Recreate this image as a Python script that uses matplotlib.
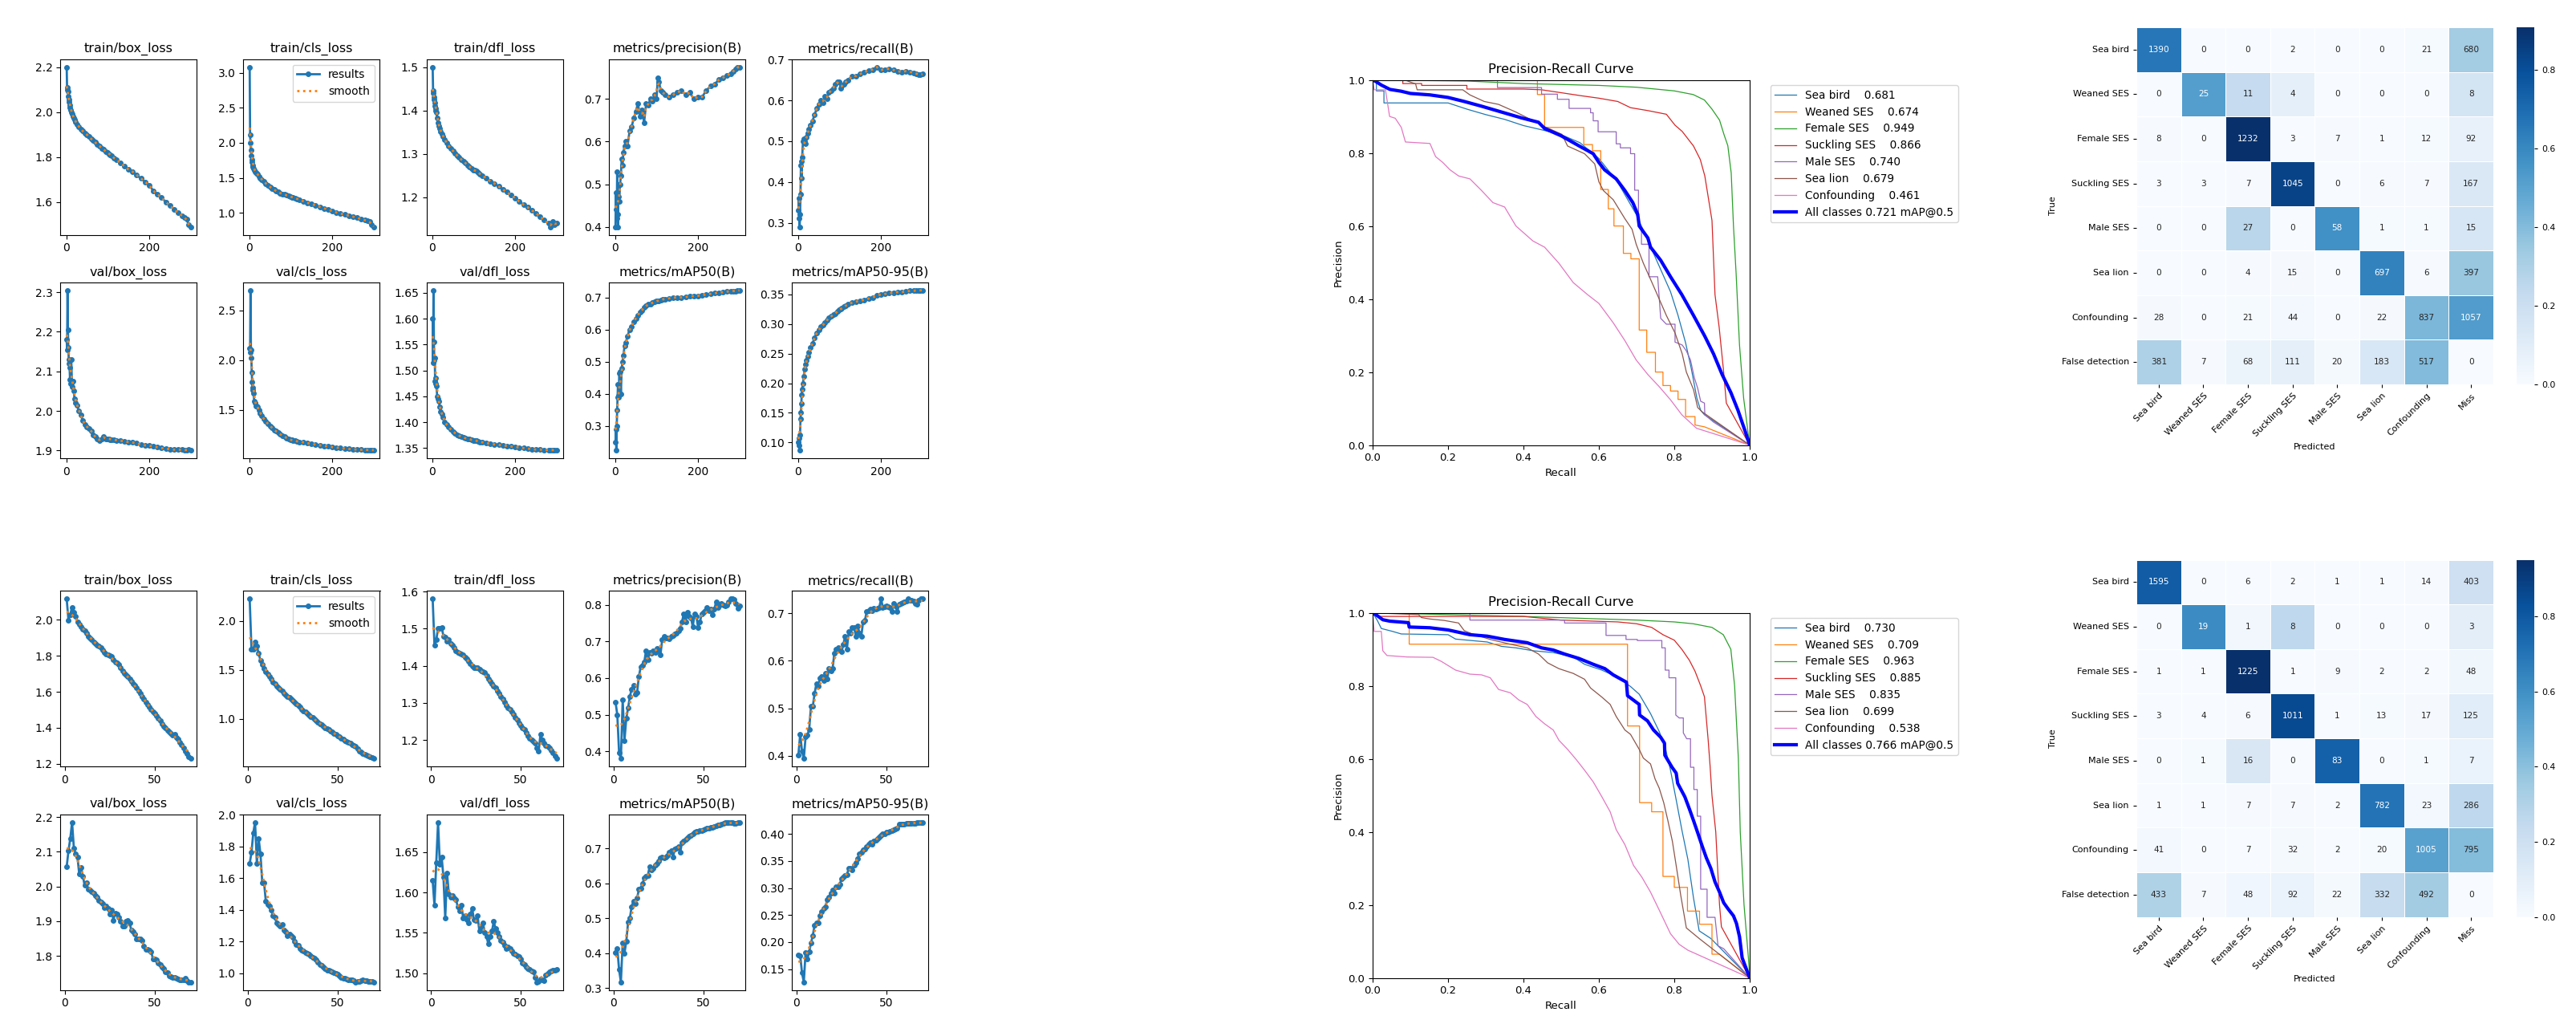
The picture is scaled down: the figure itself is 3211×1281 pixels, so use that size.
import numpy as np
import matplotlib
matplotlib.use("Agg")
import matplotlib.pyplot as plt
from matplotlib.ticker import MaxNLocator
import seaborn as sns

# ------------------------------------------------------------------ data
titles = ["train/box_loss", "train/cls_loss", "train/dfl_loss", "metrics/precision(B)", "metrics/recall(B)",
          "val/box_loss", "val/cls_loss", "val/dfl_loss", "metrics/mAP50(B)", "metrics/mAP50-95(B)"]

# run A (300 epochs), values read at these epochs
A_ep = [1, 2, 3, 4, 5, 6, 7, 8, 9, 10, 12, 14, 16, 18, 20, 23, 26, 30, 35, 40, 45, 50, 55, 60, 65, 70, 75, 80, 85, 90,
        95, 100, 103, 106, 110, 115, 120, 130, 140, 150, 160, 170, 180, 190, 200, 210, 220, 230, 240, 250, 260, 270,
        280, 285, 290, 295, 300]
A_tbox = [2.20, 2.10, 2.11, 2.09, 2.07, 2.055, 2.045, 2.03, 2.02, 2.01, 2.0, 1.99, 1.98, 1.975, 1.965, 1.955, 1.945,
          1.935, 1.925, 1.915, 1.905, 1.90, 1.89, 1.88, 1.875, 1.865, 1.855, 1.85, 1.84, 1.835, 1.825, 1.82, 1.815,
          1.81, 1.805, 1.795, 1.79, 1.775, 1.76, 1.745, 1.735, 1.72, 1.705, 1.69, 1.675, 1.65, 1.635, 1.62, 1.60,
          1.585, 1.567, 1.552, 1.54, 1.53, 1.525, 1.50, 1.49]
A_tcls = [3.08, 2.11, 2.0, 1.9, 1.82, 1.76, 1.72, 1.68, 1.65, 1.63, 1.61, 1.59, 1.575, 1.56, 1.55, 1.52, 1.50, 1.475,
          1.45, 1.42, 1.39, 1.37, 1.35, 1.33, 1.31, 1.295, 1.28, 1.27, 1.26, 1.25, 1.24, 1.23, 1.225, 1.22, 1.21,
          1.20, 1.19, 1.165, 1.145, 1.125, 1.105, 1.085, 1.065, 1.045, 1.025, 1.005, 0.99, 0.975, 0.96, 0.945, 0.93,
          0.91, 0.895, 0.885, 0.875, 0.83, 0.80]
A_tdfl = [1.50, 1.445, 1.44, 1.43, 1.425, 1.418, 1.41, 1.405, 1.40, 1.395, 1.382, 1.372, 1.364, 1.358, 1.352, 1.346,
          1.34, 1.333, 1.325, 1.318, 1.312, 1.307, 1.302, 1.296, 1.292, 1.287, 1.283, 1.279, 1.274, 1.27, 1.267,
          1.263, 1.262, 1.26, 1.257, 1.254, 1.25, 1.244, 1.237, 1.232, 1.225, 1.218, 1.212, 1.205, 1.198, 1.19, 1.183,
          1.177, 1.17, 1.163, 1.156, 1.148, 1.14, 1.132, 1.145, 1.137, 1.14]
A_prec = [0.40, 0.48, 0.44, 0.42, 0.53, 0.43, 0.40, 0.50, 0.47, 0.46, 0.50, 0.52, 0.56, 0.545, 0.575, 0.59, 0.60, 0.59,
          0.625, 0.635, 0.655, 0.67, 0.69, 0.66, 0.675, 0.645, 0.69, 0.685, 0.70, 0.695, 0.71, 0.70, 0.75, 0.74, 0.72,
          0.715, 0.71, 0.705, 0.71, 0.715, 0.72, 0.71, 0.715, 0.70, 0.705, 0.705, 0.72, 0.73, 0.735, 0.745, 0.75,
          0.755, 0.76, 0.765, 0.77, 0.775, 0.775]
A_rec = [0.33, 0.36, 0.31, 0.29, 0.32, 0.37, 0.44, 0.45, 0.41, 0.46, 0.50, 0.505, 0.50, 0.495, 0.51, 0.52, 0.53, 0.54,
         0.55, 0.565, 0.58, 0.59, 0.60, 0.595, 0.61, 0.605, 0.62, 0.625, 0.63, 0.64, 0.645, 0.645, 0.63, 0.635, 0.64,
         0.645, 0.65, 0.66, 0.66, 0.665, 0.67, 0.673, 0.676, 0.682, 0.675, 0.676, 0.678, 0.675, 0.672, 0.67, 0.672,
         0.67, 0.668, 0.666, 0.664, 0.663, 0.665]
A_vbox = [2.18, 2.155, 2.305, 2.205, 2.16, 2.13, 2.12, 2.11, 2.08, 2.07, 2.13, 2.06, 2.075, 2.05, 2.03, 2.02, 2.015,
          2.00, 1.99, 1.975, 1.965, 1.96, 1.955, 1.95, 1.94, 1.935, 1.93, 1.925, 1.93, 1.935, 1.93, 1.93, 1.93, 1.928,
          1.928, 1.927, 1.926, 1.925, 1.923, 1.921, 1.92, 1.918, 1.915, 1.913, 1.912, 1.91, 1.908, 1.906, 1.905,
          1.903, 1.902, 1.902, 1.902, 1.901, 1.901, 1.902, 1.901]
A_vcls = [2.12, 2.08, 2.70, 2.10, 2.02, 1.88, 1.78, 1.70, 1.72, 1.67, 1.59, 1.57, 1.54, 1.535, 1.53, 1.50, 1.47, 1.44,
          1.41, 1.385, 1.36, 1.34, 1.32, 1.30, 1.285, 1.27, 1.255, 1.24, 1.23, 1.22, 1.21, 1.20, 1.197, 1.194, 1.19,
          1.185, 1.18, 1.175, 1.167, 1.16, 1.152, 1.145, 1.14, 1.133, 1.127, 1.122, 1.118, 1.113, 1.108, 1.105, 1.102,
          1.10, 1.099, 1.098, 1.098, 1.097, 1.097]
A_vdfl = [1.60, 1.515, 1.655, 1.555, 1.52, 1.525, 1.48, 1.485, 1.475, 1.47, 1.45, 1.445, 1.44, 1.43, 1.42, 1.415,
          1.41, 1.40, 1.395, 1.39, 1.386, 1.382, 1.379, 1.376, 1.374, 1.372, 1.37, 1.369, 1.368, 1.367, 1.366, 1.365,
          1.365, 1.364, 1.363, 1.362, 1.361, 1.36, 1.358, 1.357, 1.356, 1.355, 1.354, 1.353, 1.352, 1.351, 1.35,
          1.349, 1.348, 1.347, 1.347, 1.346, 1.346, 1.346, 1.346, 1.346, 1.346]
A_map50 = [0.25, 0.29, 0.225, 0.30, 0.35, 0.39, 0.43, 0.39, 0.395, 0.465, 0.47, 0.40, 0.48, 0.50, 0.52, 0.55, 0.56,
           0.58, 0.60, 0.61, 0.625, 0.635, 0.645, 0.655, 0.66, 0.668, 0.674, 0.678, 0.68, 0.683, 0.686, 0.688, 0.69,
           0.69, 0.692, 0.694, 0.695, 0.697, 0.699, 0.70, 0.70, 0.701, 0.703, 0.704, 0.705, 0.707, 0.709, 0.711,
           0.713, 0.715, 0.716, 0.718, 0.719, 0.72, 0.72, 0.721, 0.722]
A_map = [0.10, 0.107, 0.095, 0.087, 0.113, 0.14, 0.151, 0.165, 0.18, 0.19, 0.20, 0.212, 0.224, 0.232, 0.239, 0.246,
         0.252, 0.26, 0.267, 0.277, 0.285, 0.29, 0.295, 0.298, 0.302, 0.307, 0.31, 0.313, 0.316, 0.318, 0.321, 0.324,
         0.325, 0.327, 0.329, 0.331, 0.333, 0.336, 0.338, 0.339, 0.341, 0.343, 0.345, 0.348, 0.35, 0.351, 0.352,
         0.353, 0.354, 0.354, 0.355, 0.356, 0.356, 0.357, 0.357, 0.357, 0.357]

# run B (70 epochs, one value per epoch)
B_tbox = [2.116, 1.997, 2.03, 2.07, 2.04, 2.02, 1.99, 1.973, 1.96, 1.95, 1.94, 1.925, 1.91, 1.90, 1.89, 1.877, 1.87,
          1.86, 1.853, 1.845, 1.832, 1.82, 1.812, 1.805, 1.80, 1.797, 1.78, 1.765, 1.76, 1.75, 1.735, 1.718, 1.705,
          1.695, 1.683, 1.67, 1.658, 1.646, 1.634, 1.622, 1.605, 1.59, 1.575, 1.56, 1.543, 1.527, 1.515, 1.503, 1.49,
          1.48, 1.468, 1.455, 1.44, 1.423, 1.41, 1.40, 1.388, 1.376, 1.37, 1.36, 1.365, 1.345, 1.335, 1.32, 1.305,
          1.288, 1.272, 1.256, 1.24, 1.228]
B_tcls = [2.226, 1.71, 1.71, 1.785, 1.74, 1.67, 1.595, 1.553, 1.51, 1.48, 1.455, 1.435, 1.405, 1.377, 1.355, 1.333,
          1.318, 1.303, 1.28, 1.26, 1.245, 1.229, 1.215, 1.20, 1.185, 1.17, 1.155, 1.14, 1.118, 1.097, 1.082, 1.067,
          1.052, 1.038, 1.023, 1.009, 0.995, 0.98, 0.965, 0.95, 0.935, 0.92, 0.91, 0.90, 0.888, 0.877, 0.862, 0.848,
          0.838, 0.827, 0.813, 0.80, 0.787, 0.774, 0.767, 0.76, 0.748, 0.736, 0.726, 0.716, 0.693, 0.67, 0.656, 0.642,
          0.635, 0.627, 0.617, 0.607, 0.598, 0.59]
B_tdfl = [1.58, 1.456, 1.47, 1.50, 1.50, 1.504, 1.48, 1.477, 1.466, 1.47, 1.46, 1.456, 1.448, 1.44, 1.437, 1.434,
          1.432, 1.43, 1.424, 1.418, 1.412, 1.406, 1.40, 1.395, 1.395, 1.395, 1.39, 1.387, 1.385, 1.383, 1.374, 1.364,
          1.358, 1.352, 1.346, 1.34, 1.332, 1.325, 1.318, 1.31, 1.302, 1.294, 1.288, 1.282, 1.276, 1.27, 1.262, 1.255,
          1.247, 1.24, 1.234, 1.228, 1.22, 1.212, 1.206, 1.20, 1.196, 1.193, 1.178, 1.17, 1.216, 1.20, 1.193, 1.186,
          1.183, 1.18, 1.173, 1.166, 1.158, 1.15]
B_prec = [0.535, 0.50, 0.396, 0.38, 0.54, 0.43, 0.49, 0.518, 0.55, 0.57, 0.58, 0.556, 0.56, 0.604, 0.63, 0.635, 0.643,
          0.675, 0.65, 0.67, 0.668, 0.674, 0.67, 0.682, 0.675, 0.663, 0.705, 0.713, 0.71, 0.71, 0.708, 0.713, 0.715,
          0.72, 0.722, 0.73, 0.735, 0.753, 0.776, 0.753, 0.78, 0.768, 0.765, 0.74, 0.776, 0.769, 0.737, 0.753, 0.776,
          0.78, 0.785, 0.792, 0.785, 0.788, 0.773, 0.788, 0.808, 0.792, 0.80, 0.804, 0.80, 0.796, 0.80, 0.808, 0.816,
          0.816, 0.814, 0.804, 0.79, 0.796]
B_rec = [0.402, 0.446, 0.41, 0.394, 0.44, 0.443, 0.456, 0.504, 0.504, 0.531, 0.552, 0.546, 0.564, 0.567, 0.558, 0.573,
         0.561, 0.583, 0.579, 0.583, 0.616, 0.625, 0.628, 0.622, 0.619, 0.634, 0.652, 0.625, 0.661, 0.658, 0.67, 0.669,
         0.652, 0.673, 0.658, 0.652, 0.682, 0.685, 0.703, 0.706, 0.708, 0.706, 0.71, 0.709, 0.711, 0.712, 0.73, 0.712,
         0.713, 0.715, 0.714, 0.712, 0.703, 0.721, 0.715, 0.703, 0.718, 0.721, 0.722, 0.724, 0.726, 0.73, 0.728,
         0.727, 0.725, 0.721, 0.718, 0.727, 0.73, 0.73]
B_vbox = [2.057, 2.103, 2.138, 2.185, 2.11, 2.094, 2.085, 2.035, 2.055, 2.03, 2.003, 2.01, 1.993, 1.99, 1.985, 1.98,
          1.973, 1.969, 1.96, 1.956, 1.95, 1.94, 1.944, 1.936, 1.92, 1.932, 1.903, 1.924, 1.92, 1.911, 1.899, 1.887,
          1.887, 1.899, 1.903, 1.895, 1.874, 1.87, 1.862, 1.85, 1.85, 1.85, 1.845, 1.829, 1.82, 1.82, 1.816, 1.812,
          1.792, 1.792, 1.788, 1.78, 1.775, 1.767, 1.763, 1.755, 1.751, 1.743, 1.74, 1.739, 1.737, 1.735, 1.733,
          1.732, 1.732, 1.732, 1.735, 1.729, 1.725, 1.725]
B_vcls = [1.692, 1.762, 1.885, 1.953, 1.692, 1.849, 1.753, 1.573, 1.573, 1.453, 1.435, 1.427, 1.40, 1.364, 1.355,
          1.319, 1.31, 1.30, 1.31, 1.274, 1.265, 1.238, 1.247, 1.238, 1.229, 1.202, 1.184, 1.175, 1.157, 1.148, 1.14,
          1.13, 1.125, 1.12, 1.11, 1.103, 1.095, 1.085, 1.07, 1.058, 1.05, 1.04, 1.03, 1.022, 1.018, 1.013, 1.008,
          1.004, 1.0, 0.995, 0.985, 0.977, 0.972, 0.968, 0.963, 0.959, 0.96, 0.959, 0.952, 0.946, 0.948, 0.95, 0.955,
          0.959, 0.956, 0.953, 0.951, 0.95, 0.948, 0.946]
B_vdfl = [1.6145, 1.584, 1.637, 1.687, 1.635, 1.644, 1.619, 1.568, 1.624, 1.598, 1.594, 1.596, 1.593, 1.591, 1.582,
          1.577, 1.584, 1.568, 1.571, 1.566, 1.562, 1.573, 1.58, 1.566, 1.565, 1.571, 1.552, 1.557, 1.562, 1.55,
          1.545, 1.536, 1.545, 1.552, 1.564, 1.555, 1.55, 1.545, 1.54, 1.538, 1.534, 1.53, 1.532, 1.53, 1.527, 1.524,
          1.523, 1.521, 1.52, 1.517, 1.513, 1.511, 1.508, 1.506, 1.505, 1.503, 1.502, 1.495, 1.489, 1.49, 1.493,
          1.492, 1.491, 1.498, 1.50, 1.502, 1.503, 1.504, 1.504, 1.505]
B_map50 = [0.402, 0.413, 0.352, 0.317, 0.43, 0.40, 0.433, 0.488, 0.50, 0.533, 0.549, 0.541, 0.557, 0.582, 0.586,
           0.598, 0.615, 0.619, 0.623, 0.647, 0.639, 0.643, 0.652, 0.656, 0.664, 0.672, 0.676, 0.672, 0.676, 0.68,
           0.688, 0.693, 0.676, 0.697, 0.70, 0.705, 0.688, 0.717, 0.721, 0.725, 0.73, 0.734, 0.738, 0.742, 0.746,
           0.748, 0.749, 0.75, 0.752, 0.754, 0.755, 0.757, 0.758, 0.76, 0.761, 0.762, 0.765, 0.767, 0.768, 0.77,
           0.772, 0.775, 0.774, 0.773, 0.773, 0.773, 0.772, 0.772, 0.773, 0.773]
B_map = [0.176, 0.175, 0.143, 0.126, 0.181, 0.169, 0.182, 0.198, 0.212, 0.231, 0.236, 0.236, 0.249, 0.257, 0.262,
         0.265, 0.278, 0.283, 0.291, 0.296, 0.291, 0.302, 0.302, 0.307, 0.317, 0.32, 0.323, 0.325, 0.336, 0.336,
         0.334, 0.342, 0.347, 0.355, 0.363, 0.366, 0.371, 0.373, 0.376, 0.381, 0.384, 0.381, 0.387, 0.389, 0.392,
         0.395, 0.397, 0.40, 0.401, 0.403, 0.404, 0.405, 0.407, 0.408, 0.41, 0.411, 0.419, 0.419, 0.419, 0.419, 0.42,
         0.42, 0.42, 0.42, 0.42, 0.42, 0.421, 0.421, 0.422, 0.422]

# PR curves (recall, precision vertices) -- top chart
pr_classes = ["Sea bird", "Weaned SES", "Female SES", "Suckling SES", "Male SES", "Sea lion", "Confounding"]
top_ap = [0.681, 0.674, 0.949, 0.866, 0.740, 0.679, 0.461]
top_map = 0.721
bot_ap = [0.730, 0.709, 0.963, 0.885, 0.835, 0.699, 0.538]
bot_map = 0.766

t_seabird_r = [0, 0.01, 0.01, 0.03, 0.03, 0.2, 0.25, 0.3, 0.35, 0.4, 0.45, 0.5, 0.55, 0.6, 0.65, 0.7, 0.73, 0.76, 0.79, 0.81, 0.83, 0.845, 0.86, 0.87, 0.88, 1.0]
t_seabird_p = [1.0, 1.0, 0.97, 0.97, 0.937, 0.937, 0.92, 0.905, 0.892, 0.875, 0.863, 0.85, 0.828, 0.785, 0.72, 0.63, 0.56, 0.49, 0.42, 0.355, 0.28, 0.21, 0.128, 0.095, 0.083, 0.0]
t_weaned_r = [0, 0.437, 0.437, 0.456, 0.456, 0.56, 0.56, 0.583, 0.583, 0.605, 0.605, 0.625, 0.625, 0.64, 0.64, 0.665, 0.665, 0.685, 0.685, 0.707, 0.707, 0.727, 0.727, 0.75, 0.75, 0.77, 0.77, 0.79, 0.79, 0.81, 0.81, 0.83, 0.83, 0.855, 0.855, 0.88, 1.0]
t_weaned_p = [1.0, 1.0, 0.96, 0.96, 0.87, 0.87, 0.823, 0.823, 0.806, 0.806, 0.70, 0.70, 0.647, 0.647, 0.60, 0.60, 0.525, 0.525, 0.51, 0.51, 0.315, 0.315, 0.254, 0.254, 0.20, 0.20, 0.163, 0.163, 0.148, 0.148, 0.125, 0.125, 0.078, 0.078, 0.055, 0.05, 0.0]
t_female_r = [0, 0.25, 0.4, 0.6, 0.7, 0.75, 0.8, 0.85, 0.88, 0.9, 0.92, 0.932, 0.942, 0.951, 0.957, 0.964, 0.973, 0.984, 0.995, 1.0]
t_female_p = [1.0, 0.997, 0.99, 0.985, 0.98, 0.975, 0.97, 0.96, 0.945, 0.92, 0.89, 0.85, 0.82, 0.745, 0.60, 0.47, 0.274, 0.128, 0.04, 0.0]
t_suckling_r = [0, 0.08, 0.08, 0.13, 0.13, 0.25, 0.25, 0.4, 0.448, 0.5, 0.551, 0.6, 0.65, 0.684, 0.73, 0.779, 0.802, 0.821, 0.851, 0.869, 0.881, 0.9, 0.908, 0.919, 0.931, 0.938, 1.0]
t_suckling_p = [1.0, 1.0, 0.99, 0.99, 0.985, 0.985, 0.975, 0.975, 0.973, 0.965, 0.957, 0.95, 0.941, 0.924, 0.916, 0.906, 0.876, 0.859, 0.819, 0.782, 0.737, 0.615, 0.412, 0.323, 0.2, 0.115, 0.0]
t_male_r = [0, .331, .331, .448, .448, .49, .49, .521, .521, .578, .578, .585, .585, .598, .598, .646, .646, .657, .657, .684, .684, .695, .695, .705, .705, .713, .713, .733, .733, .756, .764, .779, .802, .802, .821, .832, .843, .853, .862, .87, .88, .881, .904, 1.0]
t_male_p = [1.0, 1.0, .979, .979, .961, .961, .947, .947, .922, .922, .910, .910, .888, .888, .858, .858, .825, .825, .814, .814, .798, .798, .698, .698, .599, .599, .55, .55, .461, .461, .347, .331, .331, .282, .274, .258, .233, .185, .156, .12, .115, .083, .063, 0.0]
t_sealion_r = [0, .085, .114, .118, .239, .258, .296, .334, .38, .426, .452, .502, .517, .562, .589, .6, .612, .638, .669, .688, .699, .718, .737, .76, .779, .802, .821, .832, .851, .862, .874, 1.0]
t_sealion_p = [1.0, 1.0, .989, .973, .973, .959, .941, .933, .912, .888, .874, .851, .819, .798, .77, .721, .697, .672, .62, .591, .55, .498, .454, .4, .355, .307, .25, .2, .152, .103, .091, 0.0]
t_conf_r = [0, .004, .034, .045, .06, .076, .087, .152, .167, .186, .205, .228, .258, .289, .319, .35, .38, .425, .456, .494, .532, .57, .6, .638, .669, .699, .73, .76, .79, .82, .859, 1.0]
t_conf_p = [1.0, .973, .973, .90, .895, .87, .83, .826, .79, .774, .754, .737, .729, .697, .664, .652, .60, .559, .542, .498, .445, .412, .388, .335, .286, .233, .193, .16, .124, .083, .046, 0.0]
t_all_r = [0, .008, .023, .046, .076, .1, .152, .2, .243, .289, .342, .395, .44, .456, .5, .555, .585, .6, .615, .646, .669, .69, .703, .707, .73, .737, .764, .79, .82, .851, .881, .904, .927, .95, .969, .988, 1.0]
t_all_p = [1.0, .996, .986, .974, .969, .963, .959, .952, .941, .928, .912, .896, .884, .867, .847, .815, .798, .774, .754, .729, .697, .664, .632, .6, .567, .542, .506, .461, .412, .355, .298, .25, .193, .144, .095, .038, 0.0]

# PR curves -- bottom chart
b_seabird_r = [0, .012, .023, .053, .076, .2, .22, .304, .342, .38, .426, .479, .532, .562, .608, .653, .684, .707, .737, .76, .775, .79, .805, .82, .836, .851, .866, .897, 1.0]
b_seabird_p = [1.0, .98, .957, .949, .942, .94, .928, .92, .908, .904, .896, .891, .879, .859, .843, .822, .798, .777, .724, .675, .635, .569, .488, .406, .325, .219, .129, .108, 0.0]
b_weaned_r = [0, .097, .097, .676, .676, .708, .708, .74, .74, .77, .77, .80, .80, .835, .835, .867, .867, .90, .90, .92, 1.0]
b_weaned_p = [1.0, 1.0, .914, .914, .69, .69, .48, .48, .455, .455, .278, .278, .248, .248, .183, .183, .147, .147, .065, .065, 0.0]
b_female_r = [0, .2, .4, .55, .7, .8, .85, .9, .93, .95, .96, .97, .975, .985, .997, 1.0]
b_female_p = [1.0, .995, .99, .985, .98, .975, .97, .96, .94, .90, .80, .60, .40, .20, .05, 0.0]
b_suckling_r = [0, .02, .4, .5, .65, .7, .74, .77, .8, .82, .84, .855, .87, .88, .89, .895, .9, .91, .915, .92, .925, 1.0]
b_suckling_p = [1.0, .99, .99, .98, .975, .97, .96, .94, .925, .90, .87, .84, .80, .77, .65, .58, .50, .40, .30, .20, .14, 0.0]
b_male_r = [0, .258, .258, .509, .509, .619, .619, .672, .672, .702, .702, .767, .767, .776, .776, .786, .786, .804, .804, .813, .824, .824, .833, .843, .843, .852, .852, .861, .861, .870, .870, .887, .887, .908, .916, .931, 1.0]
b_male_p = [1.0, 1.0, .98, .98, .972, .972, .938, .938, .927, .927, .924, .924, .904, .904, .843, .843, .822, .822, .72, .712, .712, .671, .655, .655, .577, .577, .516, .516, .443, .443, .243, .243, .166, .166, .088, .08, 0.0]
b_sealion_r = [0, .122, .129, .152, .19, .228, .243, .262, .312, .365, .41, .44, .464, .494, .532, .562, .578, .608, .63, .646, .669, .684, .707, .718, .737, .749, .76, .772, .783, .795, .805, .817, .832, .866, 1.0]
b_sealion_p = [1.0, .995, .987, .983, .979, .972, .951, .943, .927, .914, .904, .887, .863, .847, .834, .818, .794, .769, .749, .716, .679, .667, .626, .602, .586, .545, .52, .48, .431, .374, .308, .227, .137, .108, 0.0]
b_conf_r = [0, .004, .023, .027, .038, .091, .16, .182, .22, .258, .289, .312, .334, .365, .388, .41, .433, .456, .479, .494, .517, .54, .562, .585, .608, .63, .646, .669, .692, .714, .737, .76, .79, .813, .836, 1.0]
b_conf_p = [1.0, .949, .949, .896, .883, .879, .878, .867, .843, .832, .83, .822, .79, .781, .761, .749, .716, .696, .679, .651, .626, .598, .569, .537, .496, .455, .406, .365, .308, .276, .235, .186, .121, .092, .076, 0.0]
b_all_r = [0, .011, .027, .046, .095, .097, .152, .2, .258, .304, .35, .41, .448, .479, .509, .547, .585, .616, .638, .673, .676, .707, .708, .729, .745, .764, .774, .775, .794, .805, .809, .828, .84, .851, .862, .874, .885, .897, .908, .92, .931, .942, .957, .965, .973, .98, 1.0]
b_all_p = [1.0, .993, .981, .977, .973, .961, .959, .953, .94, .936, .927, .918, .904, .898, .887, .875, .859, .847, .83, .81, .773, .749, .72, .704, .679, .659, .643, .61, .577, .561, .533, .496, .463, .431, .398, .361, .329, .30, .263, .235, .206, .19, .17, .149, .113, .055, 0.0]

# confusion matrices (counts)
cm_true = ["Sea bird", "Weaned SES", "Female SES", "Suckling SES", "Male SES", "Sea lion", "Confounding", "False detection"]
cm_pred = ["Sea bird", "Weaned SES", "Female SES", "Suckling SES", "Male SES", "Sea lion", "Confounding", "Miss"]
cm_top = [[1390, 0, 0, 2, 0, 0, 21, 680],
          [0, 25, 11, 4, 0, 0, 0, 8],
          [8, 0, 1232, 3, 7, 1, 12, 92],
          [3, 3, 7, 1045, 0, 6, 7, 167],
          [0, 0, 27, 0, 58, 1, 1, 15],
          [0, 0, 4, 15, 0, 697, 6, 397],
          [28, 0, 21, 44, 0, 22, 837, 1057],
          [381, 7, 68, 111, 20, 183, 517, 0]]
cm_bot = [[1595, 0, 6, 2, 1, 1, 14, 403],
          [0, 19, 1, 8, 0, 0, 0, 3],
          [1, 1, 1225, 1, 9, 2, 2, 48],
          [3, 4, 6, 1011, 1, 13, 17, 125],
          [0, 1, 16, 0, 83, 0, 1, 7],
          [1, 1, 7, 7, 2, 782, 23, 286],
          [41, 0, 7, 32, 2, 20, 1005, 795],
          [433, 7, 48, 92, 22, 332, 492, 0]]

# ------------------------------------------------------------------ figure
W, H = 3212, 1281
fig = plt.figure(figsize=(W / 100, H / 100), dpi=100)
fig.patch.set_facecolor("white")


def px_axes(l, t, r, b):
    return fig.add_axes([l / W, 1 - b / H, (r - l) / W, (b - t) / H])


def smooth(x, y, sigma=3.0):
    x = np.asarray(x, float)
    y = np.asarray(y, float)
    w = np.exp(-0.5 * ((x[:, None] - x[None, :]) / sigma) ** 2)
    return (w @ y) / w.sum(1)


def results_grid(off, xs, series):
    col_left = [75.4, 303.5, 531.6, 759.5, 987.5]
    row_top = [73.6, 351.8]
    aw, ah = 170, 219
    for i, y in enumerate(series):
        r, c = divmod(i, 5)
        l, t = col_left[c], row_top[r] + off
        ax = px_axes(l, t, l + aw, t + ah)
        x = xs if xs is not None else list(range(1, len(y) + 1))
        n = min(len(x), len(y))
        x, y = x[:n], y[:n]
        ax.plot(x, y, marker=".", label="results", linewidth=2, markersize=8, color="C0")
        ax.plot(x, smooth(x, y), ":", label="smooth", linewidth=2, color="C1")
        ax.set_title(titles[i], fontsize=11.5)
        ax.tick_params(labelsize=10)
        ax.xaxis.set_major_locator(MaxNLocator(nbins=2, steps=[1, 2, 2.5, 5, 10]))
        if i == 1:
            ax.legend(fontsize=10)


def pr_chart(off, curves, aps, mapv):
    ax = px_axes(1711, 99.6 + off, 2181, 554.6 + off)
    for name, (r, p), ap, col in zip(pr_classes, curves[:-1], aps, ["C0", "C1", "C2", "C3", "C4", "C5", "C6"]):
        ax.plot(r, p, linewidth=0.9, color=col, label=f"{name}    {ap:.3f}")
    r, p = curves[-1]
    ax.plot(r, p, linewidth=3, color="blue", label=f"All classes {mapv:.3f} mAP@0.5")
    ax.set_xlim(0, 1)
    ax.set_ylim(0, 1)
    ax.set_xlabel("Recall", fontsize=9.5)
    ax.set_ylabel("Precision", fontsize=9.5)
    ax.tick_params(labelsize=9.5)
    ax.set_title("Precision-Recall Curve", fontsize=11.8)
    ax.legend(bbox_to_anchor=(1.04, 1), loc="upper left", fontsize=9.8)


def cm_chart(off, counts):
    counts = np.array(counts)
    norm = counts / counts.sum(1, keepdims=True)
    ax = px_axes(2663, 34 + off, 3108, 479 + off)
    cax = px_axes(3137, 34 + off, 3159, 479 + off)
    sns.heatmap(norm, ax=ax, cbar_ax=cax, annot=counts, fmt="d", annot_kws={"size": 7.6}, cmap="Blues",
                vmin=0.0, xticklabels=cm_pred, yticklabels=cm_true, linewidths=0.6, linecolor="white")
    ax.set_xticklabels(cm_pred, rotation=45, ha="right", rotation_mode="anchor", fontsize=8)
    ax.set_yticklabels(cm_true, rotation=0, fontsize=8)
    ax.tick_params(length=3, width=0.8)
    ax.set_xlabel("Predicted", fontsize=8)
    ax.set_ylabel("True", fontsize=8)
    cax.tick_params(labelsize=7.8, length=3)


results_grid(0, A_ep, [A_tbox, A_tcls, A_tdfl, A_prec, A_rec, A_vbox, A_vcls, A_vdfl, A_map50, A_map])
results_grid(662.8, None, [B_tbox, B_tcls, B_tdfl, B_prec, B_rec, B_vbox, B_vcls, B_vdfl, B_map50, B_map])

pr_chart(0, [(t_seabird_r, t_seabird_p), (t_weaned_r, t_weaned_p), (t_female_r, t_female_p),
             (t_suckling_r, t_suckling_p), (t_male_r, t_male_p), (t_sealion_r, t_sealion_p),
             (t_conf_r, t_conf_p), (t_all_r, t_all_p)], top_ap, top_map)
pr_chart(664, [(b_seabird_r, b_seabird_p), (b_weaned_r, b_weaned_p), (b_female_r, b_female_p),
               (b_suckling_r, b_suckling_p), (b_male_r, b_male_p), (b_sealion_r, b_sealion_p),
               (b_conf_r, b_conf_p), (b_all_r, b_all_p)], bot_ap, bot_map)

cm_chart(0, cm_top)
cm_chart(663.6, cm_bot)

fig.savefig("out.png", dpi=100, facecolor="white")
